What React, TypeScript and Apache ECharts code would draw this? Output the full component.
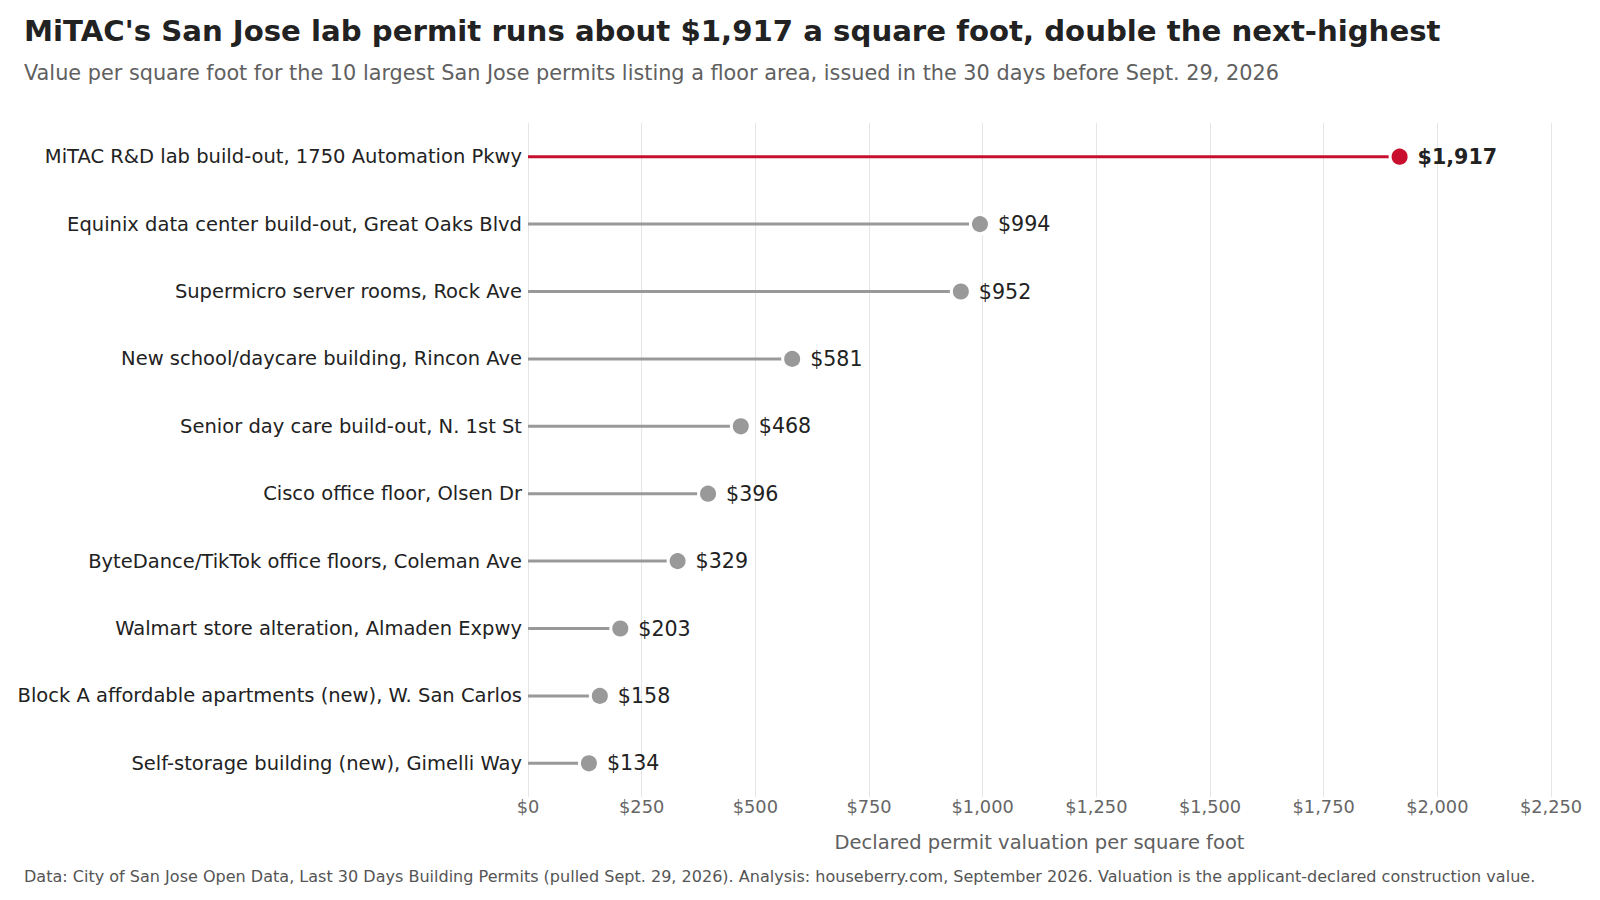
import { useEffect, useRef } from "react";
import * as echarts from "echarts";

const FONT = "'DejaVu Sans', sans-serif";
const RED = "#c8102e";
const GRAY = "#999999";

const permits = [
  "MiTAC R&D lab build-out, 1750 Automation Pkwy",
  "Equinix data center build-out, Great Oaks Blvd",
  "Supermicro server rooms, Rock Ave",
  "New school/daycare building, Rincon Ave",
  "Senior day care build-out, N. 1st St",
  "Cisco office floor, Olsen Dr",
  "ByteDance/TikTok office floors, Coleman Ave",
  "Walmart store alteration, Almaden Expwy",
  "Block A affordable apartments (new), W. San Carlos",
  "Self-storage building (new), Gimelli Way",
];
const valuePerSqft = [1917, 994, 952, 581, 468, 396, 329, 203, 158, 134];
const highlighted = [true, false, false, false, false, false, false, false, false, false];

const TITLE = "MiTAC's San Jose lab permit runs about $1,917 a square foot, double the next-highest";
const SUBTITLE =
  "Value per square foot for the 10 largest San Jose permits listing a floor area, issued in the 30 days before Sept. 29, 2026";
const FOOTER =
  "Data: City of San Jose Open Data, Last 30 Days Building Permits (pulled Sept. 29, 2026). Analysis: houseberry.com, September 2026. Valuation is the applicant-declared construction value.";

const money = (v: number) => "$" + v.toLocaleString("en-US");

export default function App() {
  const ref = useRef<HTMLDivElement>(null);

  useEffect(() => {
    const el = ref.current;
    if (!el) return;
    const chart = echarts.init(el, undefined, { renderer: "svg" });
    const colorOf = (i: number) => (highlighted[i] ? RED : GRAY);

    chart.setOption({
      animation: false,
      backgroundColor: "#ffffff",
      textStyle: { fontFamily: FONT },
      grid: { left: 528, width: 1023, top: 123, height: 674 },
      graphic: [
        {
          type: "text",
          left: 24,
          top: 16,
          style: { text: TITLE, font: `bold 29.2px ${FONT}`, fill: "#222222" },
        },
        {
          type: "text",
          left: 24,
          top: 62,
          style: { text: SUBTITLE, font: `20.8px ${FONT}`, fill: "#606060" },
        },
        {
          type: "text",
          left: 24,
          top: 868,
          style: { text: FOOTER, font: `16.05px ${FONT}`, fill: "#555555" },
        },
      ],
      xAxis: {
        type: "value",
        min: 0,
        max: 2250,
        interval: 250,
        name: "Declared permit valuation per square foot",
        nameLocation: "middle",
        nameGap: 35,
        nameTextStyle: { fontSize: 19.5, color: "#606060", fontFamily: FONT },
        axisLine: { show: false },
        axisTick: { show: false },
        axisLabel: {
          color: "#666666",
          fontSize: 17.8,
          fontFamily: FONT,
          margin: 0,
          formatter: (v: number) => money(v),
        },
        splitLine: { show: true, lineStyle: { color: "#e6e6e6", width: 1 } },
      },
      yAxis: {
        type: "category",
        data: permits,
        inverse: true,
        axisLine: { show: false },
        axisTick: { show: false },
        splitLine: { show: false },
        axisLabel: { color: "#222222", fontSize: 19.5, fontFamily: FONT, margin: 6 },
      },
      series: [
        {
          type: "bar",
          barWidth: 3,
          silent: true,
          data: valuePerSqft.map((v, i) => ({ value: v, itemStyle: { color: colorOf(i) } })),
        },
        {
          type: "scatter",
          symbol: "circle",
          symbolSize: 19,
          z: 3,
          data: valuePerSqft.map((v, i) => ({
            value: v,
            itemStyle: { color: colorOf(i), opacity: 1, borderColor: "#ffffff", borderWidth: 3 },
            label: {
              show: true,
              position: "right",
              distance: 7,
              formatter: money(v),
              color: "#222222",
              fontSize: 20.6,
              fontFamily: FONT,
              fontWeight: highlighted[i] ? "bold" : "normal",
            },
          })),
        },
      ],
    });

    return () => chart.dispose();
  }, []);

  return (
    <div
      ref={ref}
      style={{ position: "absolute", left: 0, top: 0, width: 1600, height: 900, background: "#fff" }}
    />
  );
}
